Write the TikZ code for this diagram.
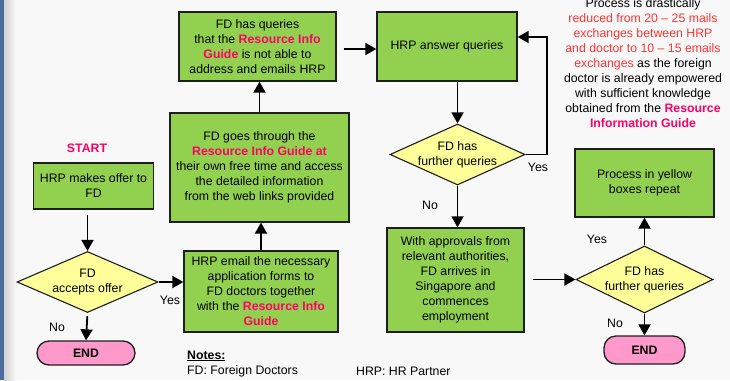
\documentclass[tikz,border=0pt]{standalone}
\usepackage{fontspec}
\setmainfont{Liberation Sans}
\usetikzlibrary{shapes.geometric,arrows.meta}
\definecolor{boxgreen}{HTML}{92D050}
\definecolor{dyellow}{HTML}{FFFF99}
\definecolor{endpink}{HTML}{FF99CC}
\definecolor{hlpink}{HTML}{FF0066}
\definecolor{hlred}{HTML}{FF3333}
\definecolor{bgcol}{HTML}{F8F8F8}
\definecolor{stripcol}{HTML}{4C6D9E}
\definecolor{edgecol}{HTML}{1E1E1E}
\newcommand{\hlp}[1]{\textcolor{hlpink}{\textbf{#1}}}
\newcommand{\hlr}[1]{\textcolor{hlred}{#1}}
\newcommand{\dtext}[1]{\makebox[0pt]{\begin{tabular}{@{}c@{}}#1\end{tabular}}}
\begin{document}
\begin{tikzpicture}[x=1pt,y=-1pt,
  font=\fontsize{12.3}{15}\selectfont,
  gbox/.style={draw=edgecol, line width=1.3pt, fill=boxgreen, align=center, inner sep=0pt},
  dbox/.style={diamond, draw=edgecol, line width=1.1pt, fill=dyellow, inner sep=0pt, aspect=1},
  endbox/.style={draw=edgecol, line width=1.3pt, fill=endpink, rounded corners=12pt, inner sep=0pt, font=\fontsize{12.3}{15}\selectfont\bfseries},
  lbl/.style={inner sep=0pt},
  conn/.style={line width=1.8pt, -{Triangle[length=11pt,width=12pt]}}]
\useasboundingbox (0,0) rectangle (730,380);
\clip (0,0) rectangle (730,380);
\fill[bgcol] (0,0) rectangle (730,380);
\shade[left color=black!18, right color=bgcol] (3.5,0) rectangle (16,380);
\fill[stripcol] (0,0) rectangle (3.5,380);

% nodes
\node[lbl, text=hlpink, font=\fontsize{12.3}{15}\selectfont\bfseries] (start) at (87,148) {START};
\node[gbox, minimum width=120, minimum height=46] (b1) at (93.5,186) {HRP makes offer to\\FD};
\node[dbox, minimum width=141, minimum height=61] (d1) at (87.5,282) {\dtext{FD\\accepts offer}};
\node[endbox, minimum width=98, minimum height=24] (e1) at (86,353) {END};

\node[gbox, minimum width=154, minimum height=81] (b2) at (261,291.5) {HRP email the necessary\\application forms to\\FD doctors together\\with the \hlp{Resource Info}\\\hlp{Guide}};
\node[gbox, minimum width=179, minimum height=109] (b3) at (259.5,167.5) {FD goes through the\\\hlp{Resource Info Guide at}\\their own free time and access\\the detailed information\\from the web links provided};
\node[gbox, minimum width=157, minimum height=69] (b4) at (257.5,46.5) {FD has queries\\that the \hlp{Resource Info}\\\hlp{Guide} is not able to\\address and emails HRP};

\node[gbox, minimum width=140, minimum height=69] (b5) at (447,46.5) {HRP answer queries};
\node[dbox, minimum width=135, minimum height=61] (d2) at (457.5,154.5) {\dtext{FD has\\further queries}};
\node[gbox, minimum width=137, minimum height=104] (b6) at (455.5,280) {With approvals from\\relevant authorities,\\FD arrives in\\Singapore and\\commences\\employment};

\node[dbox, minimum width=137, minimum height=67] (d3) at (644.5,279.5) {\dtext{FD has\\further queries}};
\node[gbox, minimum width=139, minimum height=68] (b7) at (644.5,183) {Process in yellow\\boxes repeat};
\node[endbox, minimum width=81, minimum height=28] (e2) at (644.5,350) {END};

\node[lbl, align=center] (note) at (643,63.5) {Process is drastically\\
\hlr{reduced from 20 – 25 mails}\\
\hlr{exchanges between HRP}\\
\hlr{and doctor to 10 – 15 emails}\\
\hlr{exchanges} as the foreign\\
doctor is already empowered\\
with sufficient knowledge\\
obtained from the \hlp{Resource}\\
\hlp{Information Guide}};

% labels
\node[lbl] (y1) at (170,300) {Yes};
\node[lbl] (n1) at (57,327) {No};
\node[lbl] (y2) at (538,167) {Yes};
\node[lbl] (n2) at (430,205) {No};
\node[lbl] (y3) at (597,239) {Yes};
\node[lbl] (n3) at (615,323) {No};

% notes
\node[lbl, anchor=west, font=\fontsize{12.3}{15}\selectfont\bfseries] (nt) at (187,356) {\underline{Notes:}};
\node[lbl, anchor=west] (nfd) at (187,371) {FD: Foreign Doctors};
\node[lbl, anchor=west] (nhrp) at (356,371) {HRP: HR Partner};

% connectors
\draw[conn, shorten <=5pt] (b1.south -| d1.north) -- (d1.north);
\draw[conn, shorten <=3pt] (d1.south) -- (e1.north);
\draw[conn] (d1.east) -- (d1.east -| b2.west);
\draw[conn] (b2.north) -- (b2.north |- b3.south);
\draw[conn] (b3.north) -- (b3.north |- b4.south);
\draw[conn, shorten <=7pt] ([yshift=-2.5pt]b4.east) -- ([yshift=-2.5pt]b4.east -| b5.west);
\draw[conn] (b5.south -| d2.north) -- (d2.north);
\coordinate (loop) at (547,37);
\draw[conn] (d2.east) -| (loop) -- (loop -| b5.east);
\draw[conn] (d2.south) -- (d2.south |- b6.north);
\draw[conn, shorten <=8pt] (b6.east |- d3.west) -- (d3.west);
\draw[conn] (d3.north) -- (d3.north |- b7.south);
\draw[conn] (d3.south) -- (d3.south |- e2.north);
\end{tikzpicture}
\end{document}
